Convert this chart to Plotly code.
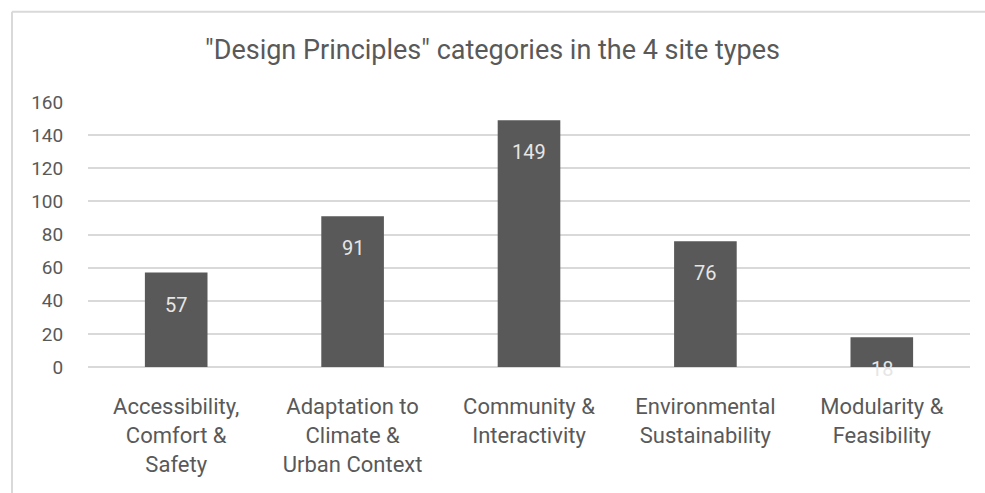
import plotly.graph_objects as go

categories = [
    "Accessibility,<br>Comfort &<br>Safety",
    "Adaptation to<br>Climate &<br>Urban Context",
    "Community &<br>Interactivity",
    "Environmental<br>Sustainability",
    "Modularity &<br>Feasibility",
]
values = [57, 91, 149, 76, 18]
y_ticks = [0, 20, 40, 60, 80, 100, 120, 140, 160]
title_text = '"Design Principles" categories in the 4 site types'

FONT = "Roboto, Liberation Sans, sans-serif"
TXT = "#595959"

fig = go.Figure()
fig.add_trace(go.Bar(
    x=categories, y=values,
    marker=dict(color="#595959", line=dict(width=0)),
    width=0.355,
    hoverinfo="x+y",
))

for c, v in zip(categories, values):
    fig.add_annotation(
        x=c, y=v, text=str(v), showarrow=False,
        yanchor="top", yshift=-18,
        font=dict(family=FONT, size=20, color="#e6e6e6"),
    )

# chart frame (Excel chart area border)
fig.add_shape(type="line", xref="paper", yref="paper",
              x0=(12 - 88) / 882, x1=(990 - 88) / 882,
              y0=1 + (102 - 12) / 264, y1=1 + (102 - 12) / 264,
              line=dict(color="#d9d9d9", width=2))
fig.add_shape(type="line", xref="paper", yref="paper",
              x0=(12 - 88) / 882, x1=(12 - 88) / 882,
              y0=1 + (102 - 12) / 264, y1=-(500 - 366) / 264,
              line=dict(color="#d9d9d9", width=2))

fig.update_layout(
    width=985, height=493,
    margin=dict(l=88, r=15, t=102, b=126),
    paper_bgcolor="white", plot_bgcolor="white",
    title=dict(text=title_text, x=0.5, xanchor="center", y=1 - 50 / 493, yanchor="middle",
               font=dict(family=FONT, size=27, color=TXT)),
    font=dict(family=FONT, size=19, color=TXT),
    showlegend=False,
    bargap=0.645,
)
fig.update_xaxes(showgrid=False, showline=False, ticks="outside", ticklen=20, tickcolor="rgba(0,0,0,0)",
                 tickfont=dict(size=22, color=TXT))
fig.update_yaxes(range=[0, 160], tickvals=y_ticks, showgrid=True, gridcolor="#d9d9d9", gridwidth=2,
                 zeroline=True, zerolinecolor="#d9d9d9", zerolinewidth=2,
                 ticks="outside", ticklen=20, tickcolor="rgba(0,0,0,0)",
                 tickfont=dict(size=19, color=TXT))

fig.write_html("out.html", config={"displayModeBar": False},
               post_script="document.body.style.margin='0';")
